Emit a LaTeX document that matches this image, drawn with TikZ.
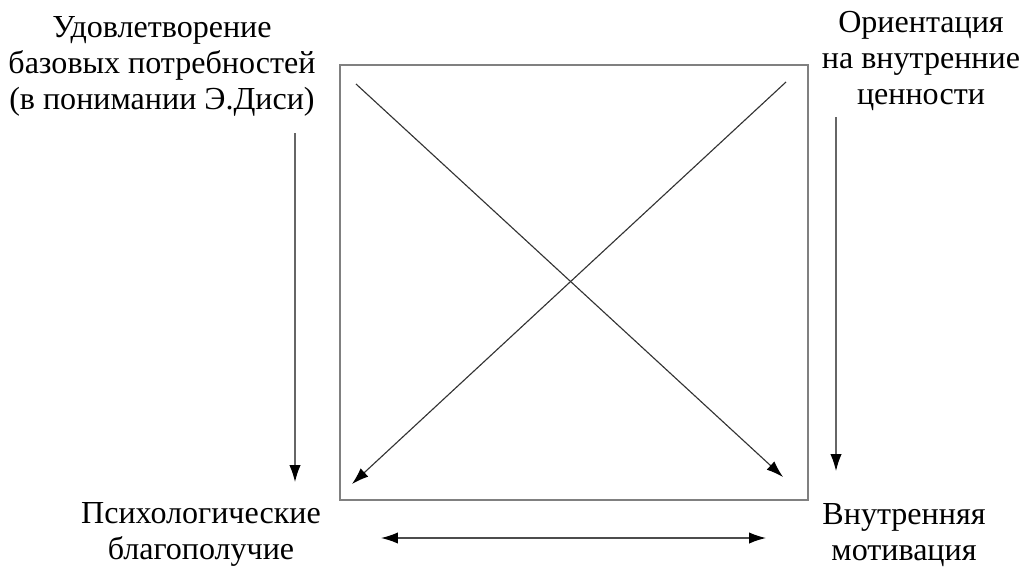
\documentclass[tikz,border=0pt]{standalone}
\usepackage{fontspec}
\setmainfont{Liberation Serif}
\usetikzlibrary{arrows.meta}

\begin{document}
\begin{tikzpicture}[x=0.025cm,y=-0.025cm,>={Latex[length=12pt,width=8pt,color=black]},
  lbl/.style={align=center,font=\fontsize{22.8}{25.6}\selectfont,inner sep=0pt},
  thin line/.style={draw=black!80,line width=0.8pt}]
  \useasboundingbox (0,0) rectangle (1025,566);
  \node[draw=black!50,line width=1.4pt,minimum width=468*0.025cm,minimum height=435*0.025cm,inner sep=0pt] (sq) at (574,282.5) {};
  \node[lbl] (needs)  at (162,66)  {Удовлетворение\\базовых потребностей\\(в понимании Э.Диси)};
  \node[lbl] (values) at (921,61)  {Ориентация\\на внутренние\\ценности};
  \node[lbl] (wellb)  at (201,534) {Психологические\\благополучие};
  \node[lbl] (motiv)  at (904,535) {Внутренняя\\мотивация};
  % box diagonals
  \coordinate (tl) at (356,84);
  \coordinate (br) at (783,477);
  \coordinate (tr) at (786,82);
  \coordinate (bl) at (352,484);
  \draw[thin line,->] (tl) -- (br);
  \draw[thin line,->] (tr) -- (bl);
  % side arrows
  \coordinate (a1) at (295,133);
  \coordinate (a2) at (295,482);
  \coordinate (b1) at (836,117);
  \coordinate (b2) at (836,471);
  \draw[draw=black!60,line width=0.8pt,->] (a1) -- (a2);
  \draw[draw=black!60,line width=0.8pt,->] (b1) -- (b2);
  \coordinate (c1) at (381,538);
  \coordinate (c2) at (766,538);
  \draw[draw=black!70,line width=0.9pt,<->] (c1) -- (c2);
\end{tikzpicture}
\end{document}
